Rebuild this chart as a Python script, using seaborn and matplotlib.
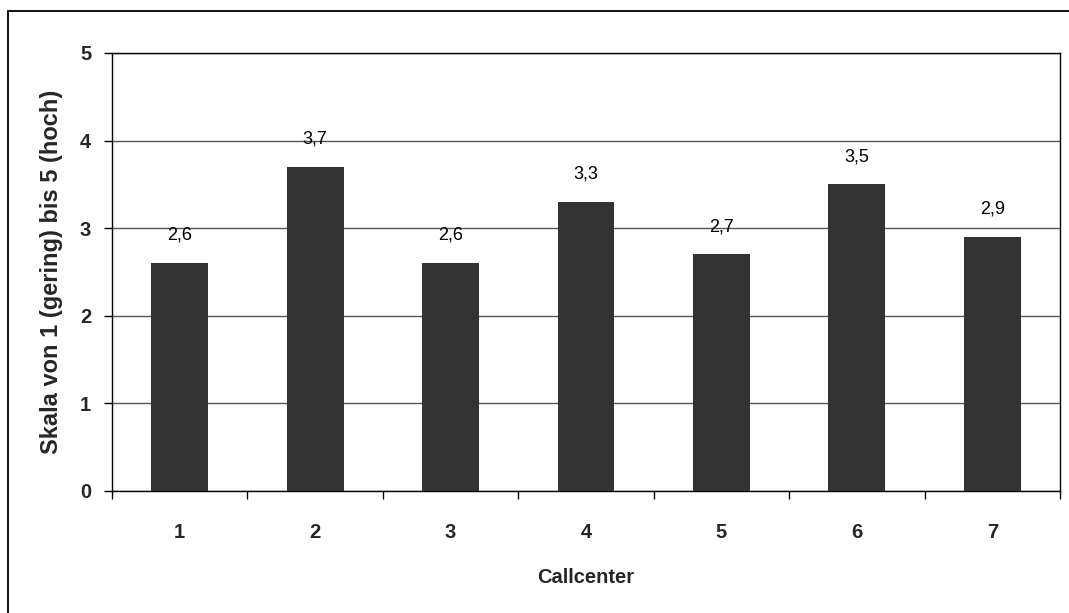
import matplotlib
matplotlib.use("Agg")
import matplotlib.pyplot as plt
import seaborn as sns
import pandas as pd
import numpy as np
from matplotlib.patches import Rectangle

categories = ["1", "2", "3", "4", "5", "6", "7"]
values = [2.6, 3.7, 2.6, 3.3, 2.7, 3.5, 2.9]
value_labels = ["2,6", "3,7", "2,6", "3,3", "2,7", "3,5", "2,9"]
y_ticks = [0, 1, 2, 3, 4, 5]

sns.set_theme(style="white")
plt.rcParams['font.family'] = ['Liberation Sans', 'DejaVu Sans']

df = pd.DataFrame({"Callcenter": categories, "Wert": values})

fig = plt.figure(figsize=(10.69, 6.13), dpi=100)
ax = fig.add_axes([112/1069, 1-491/613, (1060-112)/1069, (491-53)/613])

sns.barplot(data=df, x="Callcenter", y="Wert", color="#333333", width=0.42,
            saturation=1, ax=ax, zorder=3)
for p in ax.patches:
    p.set_edgecolor("none")

ax.set_ylim(0, 5)
ax.set_xlim(-0.5, len(categories) - 0.5)
ax.set_yticks(y_ticks)
ax.set_yticklabels([str(t) for t in y_ticks], fontsize=14.5, fontweight="bold")
ax.yaxis.grid(True, color="#555555", linewidth=1.0, zorder=0)
ax.set_axisbelow(True)

# x ticks: labels at centers, tick marks at boundaries
ax.set_xticks(range(len(categories)))
ax.set_xticklabels(categories, fontsize=14.5, fontweight="bold")
ax.tick_params(axis="x", which="major", length=0, pad=23)
ax.set_xticks(np.arange(-0.5, len(categories), 1.0), minor=True)
ax.tick_params(axis="x", which="minor", bottom=True, length=6, width=1, color="black", direction="out")
ax.tick_params(axis="y", which="major", left=True, length=6, width=1, color="black", direction="out", pad=9)

for s in ["left", "bottom", "top", "right"]:
    ax.spines[s].set_visible(True)
    ax.spines[s].set_color("black")
    ax.spines[s].set_linewidth(1.0)

ax.set_xlabel("Callcenter", fontsize=14.5, fontweight="bold", labelpad=19)
ax.set_ylabel("Skala von 1 (gering) bis 5 (hoch)", fontsize=17, fontweight="bold", labelpad=12)

for i, (v, lab) in enumerate(zip(values, value_labels)):
    ax.annotate(lab, xy=(i, v), xytext=(0, 20), textcoords="offset points",
                ha="center", va="center", fontsize=13, color="black")

# outer chart border (cropped on right and bottom)
fig.patches.append(Rectangle((8/1069, -0.05), 1.2, 1 - 11/613 + 0.05,
                             transform=fig.transFigure, fill=False,
                             edgecolor="black", linewidth=1.3))

fig.savefig("out.png", dpi=100, facecolor="white")
